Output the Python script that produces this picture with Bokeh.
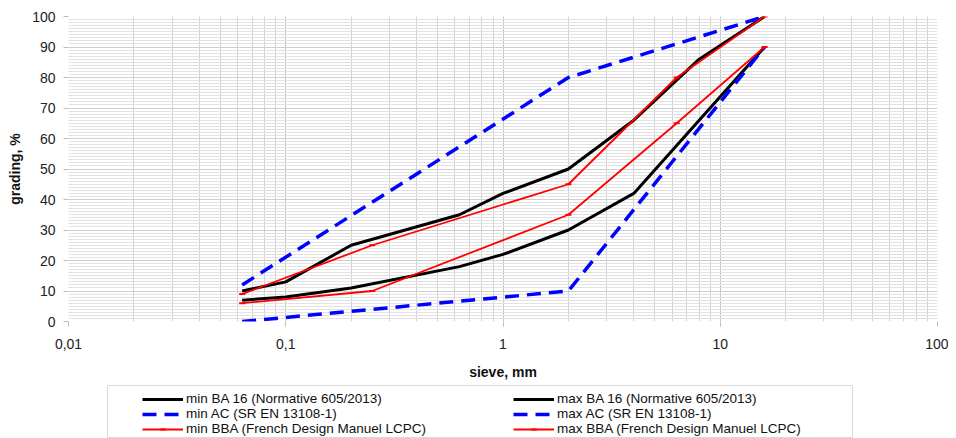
from bokeh.plotting import figure
from bokeh.models import FixedTicker, Legend, LegendItem, Spacer
from bokeh.layouts import column, row
from bokeh.embed import file_html
from bokeh.resources import INLINE

# ---- data ----
sieve_BA = [0.063, 0.1, 0.2, 0.63, 1, 2, 4, 8, 16]
min_BA = [7, 8, 11, 18, 22, 30, 42, 66, 90]
max_BA = [10, 13, 25, 35, 42, 50, 66, 86, 100]

sieve_AC = [0.063, 2, 16]
min_AC = [0, 10, 90]
max_AC = [12, 80, 100]

sieve_BBA = [0.063, 0.25, 2, 6.3, 16]
min_BBA = [6, 10, 35, 65, 90]
max_BBA = [9, 25, 45, 80, 100]

x_ticks = [0.01, 0.1, 1, 10, 100]
x_tick_labels = ["0,01", "0,1", "1", "10", "100"]
y_ticks = list(range(0, 101, 10))

labels = [
    "min BA 16 (Normative 605/2013)",
    "max BA 16 (Normative 605/2013)",
    "min AC (SR EN 13108-1)",
    "max AC (SR EN 13108-1)",
    "min BBA (French Design Manuel LCPC)",
    "max BBA (French Design Manuel LCPC)",
]

FONT = "Liberation Sans"

p = figure(width=948, height=385, x_axis_type="log", x_range=(0.01, 100), y_range=(0, 100),
           output_backend="svg", toolbar_location=None,
           min_border_left=68, min_border_right=11, min_border_top=16, min_border_bottom=64)
p.outline_line_color = None

# ticks
minor_x = [m * 10 ** e for e in range(-2, 2) for m in range(2, 10)]
p.xaxis.ticker = FixedTicker(ticks=x_ticks, minor_ticks=minor_x)
p.xaxis.major_label_overrides = {t: l for t, l in zip(x_ticks, x_tick_labels)}
p.yaxis.ticker = FixedTicker(ticks=y_ticks, minor_ticks=list(range(0, 101)))

for ax in (p.xaxis[0], p.yaxis[0]):
    ax.axis_line_color = None
    ax.major_tick_line_color = "#bfbfbf"
    ax.major_tick_out = 5
    ax.major_tick_in = 0
    ax.minor_tick_line_color = None
    ax.major_label_text_font = FONT
    ax.major_label_text_font_size = "14px"
    ax.major_label_text_color = "#222222"
    ax.axis_label_text_font = FONT
    ax.axis_label_text_font_size = "14px"
    ax.axis_label_text_font_style = "bold"
    ax.axis_label_text_color = "#111111"

p.xaxis.axis_label = "sieve, mm"
p.yaxis.axis_label = "grading, %"
p.xaxis.major_label_standoff = 12
p.xaxis.axis_label_standoff = 12
p.yaxis.major_label_standoff = 8
p.yaxis.axis_label_standoff = 6

p.xgrid.grid_line_color = "#c4c4c4"
p.xgrid.minor_grid_line_color = "#d0d0d0"
p.ygrid.grid_line_color = "#cfcfcf"
p.ygrid.minor_grid_line_color = "#e2e2e2"

styles = [
    dict(line_color="black", line_width=3),
    dict(line_color="black", line_width=3),
    dict(line_color="#0000ff", line_width=3.5, line_dash="14 8"),
    dict(line_color="#0000ff", line_width=3.5, line_dash="14 8"),
    dict(line_color="#ff0000", line_width=1.8),
    dict(line_color="#ff0000", line_width=1.8),
]
series = [(sieve_BA, min_BA), (sieve_BA, max_BA), (sieve_AC, min_AC), (sieve_AC, max_AC),
          (sieve_BBA, min_BBA), (sieve_BBA, max_BBA)]

for i, (xs, ys) in enumerate(series):
    p.line(xs, ys, **styles[i])
    if i >= 4:
        p.scatter(xs, ys, marker="dash", size=6, line_color="#ff0000", line_width=2)

# legend strip below the chart; its frame outline is the legend box
lg = figure(width=746, height=53, output_backend="svg", toolbar_location=None,
            x_axis_location=None, y_axis_location=None,
            min_border_left=0, min_border_right=0, min_border_top=0, min_border_bottom=0,
            x_range=(0, 1), y_range=(0, 1))
lg.outline_line_color = "#d9d9d9"
lg.grid.visible = False
made = {}
for i in range(6):
    rs = [lg.line([-10, -9], [-10, -10], **styles[i])]
    if i >= 4:
        rs.append(lg.scatter([-10], [-10], marker="dash", size=6, line_color="#ff0000", line_width=2))
    made[i] = LegendItem(label=labels[i], renderers=rs)
# column-major fill: left column = min series, right column = max series
items = [made[0], made[2], made[4], made[1], made[3], made[5]]

legend = Legend(items=items, ncols=2, location=(35, 2),
                label_text_font=FONT, label_text_font_size="13.5px", label_text_color="#111111",
                label_height=14, glyph_height=14, glyph_width=41, label_standoff=3,
                label_width=327, spacing=0, padding=6, margin=0,
                border_line_color=None, background_fill_alpha=0)
lg.add_layout(legend, "center")

layout = column(p, row(Spacer(width=107, height=53), lg, spacing=0), spacing=0)
open("out.html", "w").write(file_html(layout, INLINE))
